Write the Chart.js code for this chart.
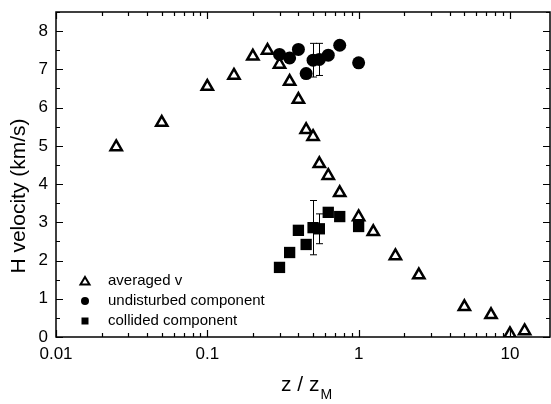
<!DOCTYPE html>
<html lang="en">
<head>
    <meta charset="UTF-8">
    <title>H velocity vs z / zM</title>
    <script src="https://cdn.jsdelivr.net/npm/chart.js"></script>
    <style>
        body { margin: 0; background: #fff; }
        canvas { display: block; }
    </style>
</head>
<body>
    <canvas id="velChart" width="551" height="404"></canvas>

    <script>
        // values
        const avgZ = [0.025, 0.05, 0.1, 0.15, 0.2, 0.25, 0.3, 0.35, 0.4, 0.45, 0.5, 0.55, 0.63, 0.75, 1.0, 1.25, 1.75, 2.5, 5, 7.5, 10, 12.5];
        const avgV = [4.97, 5.61, 6.55, 6.84, 7.34, 7.49, 7.13, 6.68, 6.21, 5.42, 5.24, 4.53, 4.22, 3.77, 3.14, 2.75, 2.12, 1.62, 0.79, 0.58, 0.08, 0.16];

        const compZ = [0.3, 0.35, 0.4, 0.45, 0.5, 0.55, 0.63, 0.75, 1.0];
        const undisturbedV = [7.39, 7.30, 7.52, 6.89, 7.24, 7.26, 7.37, 7.63, 7.17];
        const undisturbedErr = [0, 0, 0, 0, 0.44, 0.42, 0, 0, 0];
        const collidedV = [1.82, 2.21, 2.79, 2.42, 2.86, 2.83, 3.26, 3.15, 2.89];
        const collidedErr = [0, 0, 0, 0, 0.71, 0.39, 0, 0, 0];

        const xTickValues = [0.01, 0.1, 1, 10];
        const xTickLabels = ['0.01', '0.1', '1', '10'];
        const yTickValues = [0, 1, 2, 3, 4, 5, 6, 7, 8];
        const legendLabels = ['averaged v', 'undisturbed component', 'collided component'];

        const FONT = "'Liberation Sans', Arial, sans-serif";

        const toPoints = (xs, ys) => xs.map((x, i) => ({ x: x, y: ys[i] }));

        // error bars, drawn under the markers
        const errorBars = {
            id: 'errorBars',
            beforeDatasetsDraw(chart) {
                const { ctx, scales: { x, y } } = chart;
                const sets = [[undisturbedV, undisturbedErr], [collidedV, collidedErr]];
                ctx.save();
                ctx.strokeStyle = '#000';
                ctx.lineWidth = 1;
                sets.forEach(([vals, errs]) => {
                    vals.forEach((v, i) => {
                        if (!errs[i]) return;
                        const px = Math.round(x.getPixelForValue(compZ[i])) + 0.5;
                        const t = y.getPixelForValue(v + errs[i]);
                        const b = y.getPixelForValue(v - errs[i]);
                        ctx.beginPath();
                        ctx.moveTo(px, t); ctx.lineTo(px, b);
                        ctx.moveTo(px - 3.5, t); ctx.lineTo(px + 3.5, t);
                        ctx.moveTo(px - 3.5, b); ctx.lineTo(px + 3.5, b);
                        ctx.stroke();
                    });
                });
                ctx.restore();
            }
        };

        // frame, inward ticks, axis titles and legend
        const frame = {
            id: 'frame',
            afterDraw(chart) {
                const { ctx, chartArea: { left, right, top, bottom }, scales: { x, y } } = chart;
                ctx.save();
                ctx.strokeStyle = '#000';
                ctx.lineWidth = 1.5;
                ctx.strokeRect(left, top, right - left, bottom - top);

                ctx.lineWidth = 1.2;
                ctx.beginPath();
                [0.01, 0.1, 1, 10].forEach(dec => {
                    for (let m = 1; m <= 9; m++) {
                        const v = dec * m;
                        if (v > x.max) break;
                        const px = Math.round(x.getPixelForValue(v)) + 0.5;
                        const len = m === 1 ? 7 : 4;
                        ctx.moveTo(px, bottom); ctx.lineTo(px, bottom - len);
                        ctx.moveTo(px, top); ctx.lineTo(px, top + len);
                    }
                });
                for (let v = 0; v <= 8.5; v += 0.5) {
                    const py = Math.round(y.getPixelForValue(v)) + 0.5;
                    const len = Number.isInteger(v) ? 7 : 4;
                    ctx.moveTo(left, py); ctx.lineTo(left + len, py);
                    ctx.moveTo(right, py); ctx.lineTo(right - len, py);
                }
                ctx.stroke();

                // y title
                ctx.fillStyle = '#000';
                ctx.save();
                ctx.translate(19, 196);
                ctx.rotate(-Math.PI / 2);
                ctx.textAlign = 'center';
                ctx.textBaseline = 'middle';
                ctx.font = '21px ' + FONT;
                ctx.fillText('H velocity (km/s)', 0, 0);
                ctx.restore();

                // x title with subscript
                ctx.font = '21px ' + FONT;
                const main = 'z / z';
                const wMain = ctx.measureText(main).width;
                ctx.font = '14px ' + FONT;
                const wSub = ctx.measureText('M').width;
                const x0 = 306 - (wMain + wSub) / 2;
                ctx.textAlign = 'left';
                ctx.textBaseline = 'alphabetic';
                ctx.font = '21px ' + FONT;
                ctx.fillText(main, x0, 391);
                ctx.font = '14px ' + FONT;
                ctx.fillText('M', x0 + wMain + 1, 399);

                // legend
                const rows = [281, 301, 321];
                const mx = 85;
                ctx.font = '15px ' + FONT;
                ctx.textBaseline = 'middle';
                rows.forEach((ry, i) => {
                    ctx.beginPath();
                    if (i === 0) {
                        ctx.lineWidth = 2;
                        ctx.moveTo(mx, ry - 4);
                        ctx.lineTo(mx + 4.5, ry + 3.5);
                        ctx.lineTo(mx - 4.5, ry + 3.5);
                        ctx.closePath();
                        ctx.stroke();
                    } else if (i === 1) {
                        ctx.arc(mx, ry, 4, 0, Math.PI * 2);
                        ctx.fill();
                    } else {
                        ctx.rect(mx - 3.5, ry - 3.5, 7, 7);
                        ctx.fill();
                    }
                    ctx.fillText(legendLabels[i], 108, ry);
                });
                ctx.restore();
            }
        };

        const ctx = document.getElementById('velChart').getContext('2d');
        const velChart = new Chart(ctx, {
            type: 'scatter',
            data: {
                datasets: [{
                    label: legendLabels[0],
                    data: toPoints(avgZ, avgV),
                    pointStyle: 'triangle',
                    pointRadius: 6.5,
                    borderWidth: 2.5,
                    borderColor: '#000',
                    backgroundColor: '#fff',
                    order: 3
                }, {
                    label: legendLabels[1],
                    data: toPoints(compZ, undisturbedV),
                    pointStyle: 'circle',
                    pointRadius: 6.5,
                    borderWidth: 0,
                    borderColor: '#000',
                    backgroundColor: '#000',
                    order: 2
                }, {
                    label: legendLabels[2],
                    data: toPoints(compZ, collidedV),
                    pointStyle: 'rect',
                    pointRadius: 8,
                    borderWidth: 0,
                    borderColor: '#000',
                    backgroundColor: '#000',
                    order: 1
                }]
            },
            options: {
                responsive: false,
                animation: false,
                layout: { autoPadding: false, padding: { top: 12, right: 1, left: 0, bottom: 0 } },
                plugins: {
                    legend: { display: false },
                    tooltip: { enabled: false }
                },
                scales: {
                    x: {
                        type: 'logarithmic',
                        min: 0.01,
                        max: 18.4,
                        grid: { display: false, drawTicks: false },
                        border: { display: false },
                        afterBuildTicks: s => { s.ticks = xTickValues.map(v => ({ value: v })); },
                        afterFit: s => { s.height = 67; s.paddingLeft = 0; s.paddingRight = 0; },
                        ticks: {
                            color: '#000',
                            font: { family: FONT, size: 17 },
                            padding: 7,
                            maxRotation: 0,
                            autoSkip: false,
                            callback: v => xTickLabels[xTickValues.indexOf(v)]
                        }
                    },
                    y: {
                        min: 0,
                        max: 8.5,
                        grid: { display: false, drawTicks: false },
                        border: { display: false },
                        afterBuildTicks: s => { s.ticks = yTickValues.map(v => ({ value: v })); },
                        afterFit: s => { s.width = 56; s.paddingTop = 0; s.paddingBottom = 0; },
                        ticks: {
                            color: '#000',
                            font: { family: FONT, size: 17 },
                            padding: 8,
                            callback: v => String(v)
                        }
                    }
                }
            },
            plugins: [errorBars, frame]
        });
    </script>
</body>
</html>
